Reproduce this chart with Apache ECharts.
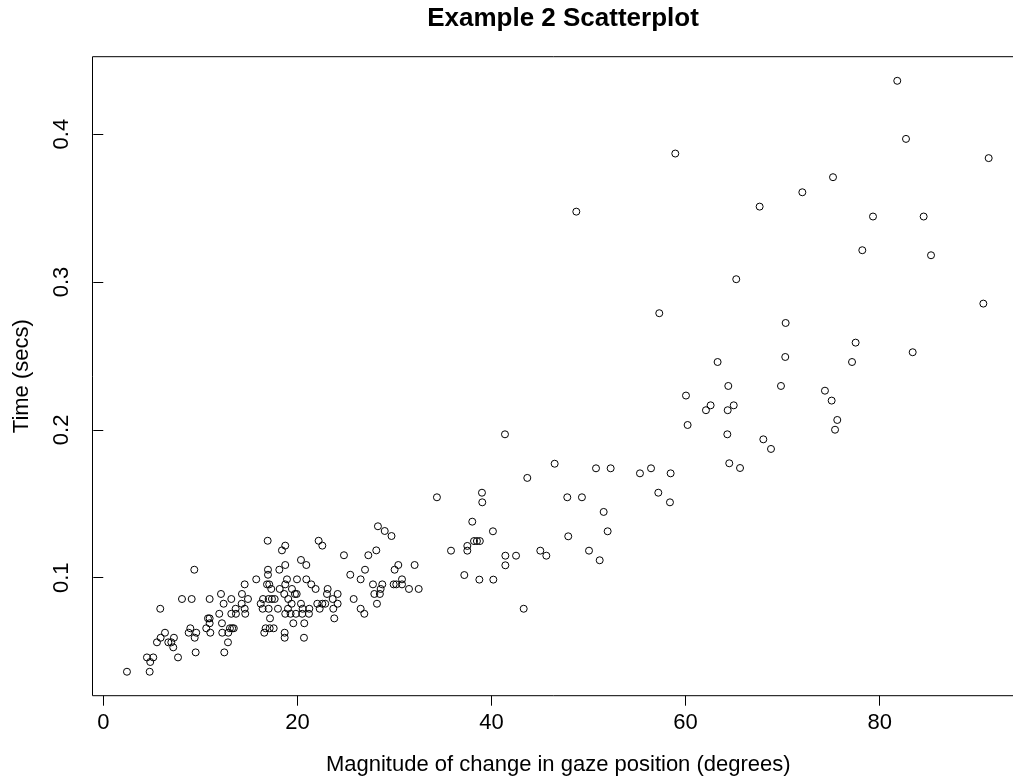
<!DOCTYPE html>
<html>
<head>
<meta charset="utf-8">
<script src="https://cdn.jsdelivr.net/npm/echarts@6/dist/echarts.min.js"></script>
<style>
html,body{margin:0;padding:0;background:#fff;}
#chart{width:1013px;height:780px;}
</style>
</head>
<body>
<div id="chart"></div>
<script>
const chartTitle = "Example 2 Scatterplot";
const xAxisTitle = "Magnitude of change in gaze position (degrees)";
const yAxisTitle = "Time (secs)";
const xTicks = [0, 20, 40, 60, 80];
const yTicks = [0.1, 0.2, 0.3, 0.4];

const gaze = [
58.94,48.74,57.29,
81.81,82.71,91.23,75.19,72.03,67.63,79.31,84.53,78.21,85.29,65.22,90.68,70.31,
77.52,83.40,63.30,70.27,77.15,64.40,69.83,74.36,75.05,62.58,62.10,64.96,64.34,75.63,75.40,64.30,68.01,68.80,64.50,65.61,
60.04,60.21,41.39,46.51,43.69,50.77,52.28,55.30,56.44,58.46,57.19,58.39,34.38,39.02,39.05,47.81,49.32,51.56,38.02,40.15,51.97,47.91,38.20,38.50,38.80,37.51,37.51,35.83,41.43,42.53,41.43,45.03,45.65,50.05,51.15,37.20,38.75,40.19,43.32,
28.30,29.00,29.70,16.94,18.75,18.41,22.19,22.57,28.13,27.31,24.80,20.37,20.92,18.75,18.14,16.97,30.40,32.08,30.02,26.97,9.38,
16.97,25.45,26.52,15.76,18.93,19.96,20.92,30.78,
14.57,16.87,17.10,18.75,21.43,27.79,28.75,29.92,30.19,30.78,
17.31,18.18,19.44,21.88,23.12,28.58,31.50,32.50,
12.13,14.29,18.65,19.75,19.93,23.05,24.15,27.93,28.50,
8.11,9.11,10.96,13.19,14.91,16.46,17.04,17.38,17.66,19.06,23.64,25.80,
12.40,14.26,16.22,19.41,20.37,22.05,22.57,22.87,24.15,28.20,
5.87,13.64,14.57,16.42,17.04,18.00,19.03,20.54,21.23,22.30,23.70,26.52,
11.95,13.19,13.67,14.63,18.75,19.30,19.85,20.50,21.19,26.90,
10.79,10.96,17.18,23.80,
10.96,12.23,19.58,20.71,
8.97,10.61,13.05,13.28,13.45,16.73,17.15,17.56,
6.36,8.80,9.58,11.03,12.26,12.88,16.59,18.69,
5.91,7.28,9.42,18.69,20.68,
5.53,6.70,7.01,12.85,
7.21,9.52,12.47,
4.50,5.15,7.70,4.84,2.44,4.78
];
const timeSecs = [
0.3869,0.3476,0.2789,
0.4361,0.3968,0.3838,0.3709,0.3607,0.3510,0.3443,0.3443,0.3215,0.3181,0.3019,0.2854,0.2723,
0.2590,0.2525,0.2459,0.2493,0.2459,0.2297,0.2297,0.2265,0.2198,0.2166,0.2133,0.2166,0.2133,0.2067,0.2001,0.1970,0.1936,0.1871,0.1774,0.1742,
0.2232,0.2033,0.1970,0.1771,0.1675,0.1740,0.1740,0.1706,0.1740,0.1706,0.1575,0.1510,0.1544,0.1575,0.1510,0.1544,0.1544,0.1445,0.1379,0.1314,0.1314,0.1280,0.1248,0.1248,0.1248,0.1215,0.1183,0.1183,0.1149,0.1149,0.1084,0.1183,0.1149,0.1183,0.1118,0.1018,0.0987,0.0987,0.0790,
0.1348,0.1316,0.1282,0.1250,0.1217,0.1185,0.1250,0.1217,0.1185,0.1152,0.1152,0.1120,0.1086,0.1086,0.1054,0.1054,0.1086,0.1086,0.1054,0.1054,0.1054,
0.1020,0.1020,0.0989,0.0989,0.0989,0.0989,0.0989,0.0989,
0.0955,0.0955,0.0955,0.0955,0.0955,0.0955,0.0955,0.0955,0.0955,0.0955,
0.0924,0.0924,0.0924,0.0924,0.0924,0.0924,0.0924,0.0924,
0.0890,0.0890,0.0890,0.0890,0.0890,0.0890,0.0890,0.0890,0.0890,
0.0856,0.0856,0.0856,0.0856,0.0856,0.0856,0.0856,0.0856,0.0856,0.0856,0.0856,0.0856,
0.0824,0.0824,0.0824,0.0824,0.0824,0.0824,0.0824,0.0824,0.0824,0.0824,
0.0790,0.0790,0.0790,0.0790,0.0790,0.0790,0.0790,0.0790,0.0790,0.0790,0.0790,0.0790,
0.0756,0.0756,0.0756,0.0756,0.0756,0.0756,0.0756,0.0756,0.0756,0.0756,
0.0725,0.0725,0.0725,0.0725,
0.0692,0.0692,0.0692,0.0692,
0.0658,0.0658,0.0658,0.0658,0.0658,0.0658,0.0658,0.0658,
0.0628,0.0628,0.0628,0.0628,0.0628,0.0628,0.0628,0.0628,
0.0594,0.0594,0.0594,0.0594,0.0594,
0.0563,0.0563,0.0563,0.0563,
0.0529,0.0495,0.0495,
0.0461,0.0461,0.0461,0.0430,0.0364,0.0364
];

const points = gaze.map((g, i) => [g, timeSecs[i]]);

const FONT = "'Liberation Sans', Arial, Helvetica, sans-serif";
const chart = echarts.init(document.getElementById('chart'), null, {renderer: 'canvas'});
chart.setOption({
  animation: false,
  backgroundColor: '#ffffff',
  title: {
    text: chartTitle,
    left: 558,
    top: 1,
    textAlign: 'center',
    textStyle: {fontFamily: FONT, fontWeight: 'bold', fontSize: 26, color: '#000'}
  },
  grid: {
    left: 92.5, top: 56.7, width: 931.5, height: 639,
    outerBoundsMode: 'none',
    containLabel: false,
    show: true, borderColor: '#000', borderWidth: 1, backgroundColor: 'transparent'
  },
  xAxis: {
    type: 'value',
    min: -1.11, max: 94.87,
    name: xAxisTitle,
    nameLocation: 'middle',
    nameGap: 58,
    nameTextStyle: {fontFamily: FONT, fontSize: 22, color: '#000'},
    axisLine: {show: false},
    splitLine: {show: false},
    axisTick: {show: true, inside: false, length: 10, customValues: xTicks, lineStyle: {color: '#000', width: 1}},
    axisLabel: {show: true, customValues: xTicks, margin: 16, fontFamily: FONT, fontSize: 22, color: '#000'}
  },
  yAxis: {
    type: 'value',
    min: 0.0202, max: 0.4524,
    name: yAxisTitle,
    nameLocation: 'middle',
    nameGap: 60,
    nameRotate: 90,
    nameTextStyle: {fontFamily: FONT, fontSize: 22, color: '#000'},
    axisLine: {show: false},
    splitLine: {show: false},
    axisTick: {show: true, inside: false, length: 10, customValues: yTicks, lineStyle: {color: '#000', width: 1}},
    axisLabel: {show: true, customValues: yTicks, rotate: 90, margin: 20, fontFamily: FONT, fontSize: 22, color: '#000',
      formatter: v => String(v)}
  },
  series: [{
    type: 'scatter',
    data: points,
    symbol: 'circle',
    symbolSize: 7,
    itemStyle: {color: 'rgba(0,0,0,0)', borderColor: '#000', borderWidth: 1, opacity: 1},
    emphasis: {disabled: true},
    silent: true
  }]
});
</script>
</body>
</html>
